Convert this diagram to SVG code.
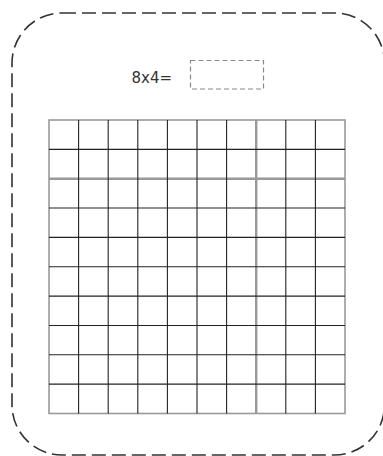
<svg xmlns="http://www.w3.org/2000/svg" width="383" height="456" viewBox="0 0 383 456">
<style>
.frame{fill:none;stroke:#333;stroke-width:1.6;stroke-dasharray:14 6}
.answer{fill:none;stroke:#888;stroke-width:1.2;stroke-dasharray:5 3}
.thin{stroke:#222;stroke-width:1.1}
.thick{stroke:#999;stroke-width:2.4}
.border{fill:none;stroke:#999;stroke-width:1.6}
.label{font-family:"DejaVu Sans",sans-serif;font-size:15px;fill:#333}
</style>
<rect width="383" height="456" fill="#fff"/>
<g id="frame">
<rect class="frame" x="12" y="13" width="372.5" height="442" rx="50" ry="50"/>
</g>
<g id="question">
<text class="label" x="131.5" y="82.5">8x4=</text>
<rect class="answer" x="190.5" y="60.5" width="73" height="28.5"/>
</g>
<g id="grid">
<rect class="border" x="49" y="120" width="296" height="293.5"/>
<line class="thick" x1="256.2" y1="120" x2="256.2" y2="413.5"/>
<line class="thick" x1="49" y1="178.7" x2="345" y2="178.7"/>
<g class="thin">
<line x1="78.6" y1="120" x2="78.6" y2="413.5"/>
<line x1="108.2" y1="120" x2="108.2" y2="413.5"/>
<line x1="137.8" y1="120" x2="137.8" y2="413.5"/>
<line x1="167.4" y1="120" x2="167.4" y2="413.5"/>
<line x1="197" y1="120" x2="197" y2="413.5"/>
<line x1="226.6" y1="120" x2="226.6" y2="413.5"/>
<line x1="285.8" y1="120" x2="285.8" y2="413.5"/>
<line x1="315.4" y1="120" x2="315.4" y2="413.5"/>
<line x1="49" y1="149.35" x2="345" y2="149.35"/>
<line x1="49" y1="208.05" x2="345" y2="208.05"/>
<line x1="49" y1="237.4" x2="345" y2="237.4"/>
<line x1="49" y1="266.75" x2="345" y2="266.75"/>
<line x1="49" y1="296.1" x2="345" y2="296.1"/>
<line x1="49" y1="325.45" x2="345" y2="325.45"/>
<line x1="49" y1="354.8" x2="345" y2="354.8"/>
<line x1="49" y1="384.15" x2="345" y2="384.15"/>
</g>
</g>
</svg>
